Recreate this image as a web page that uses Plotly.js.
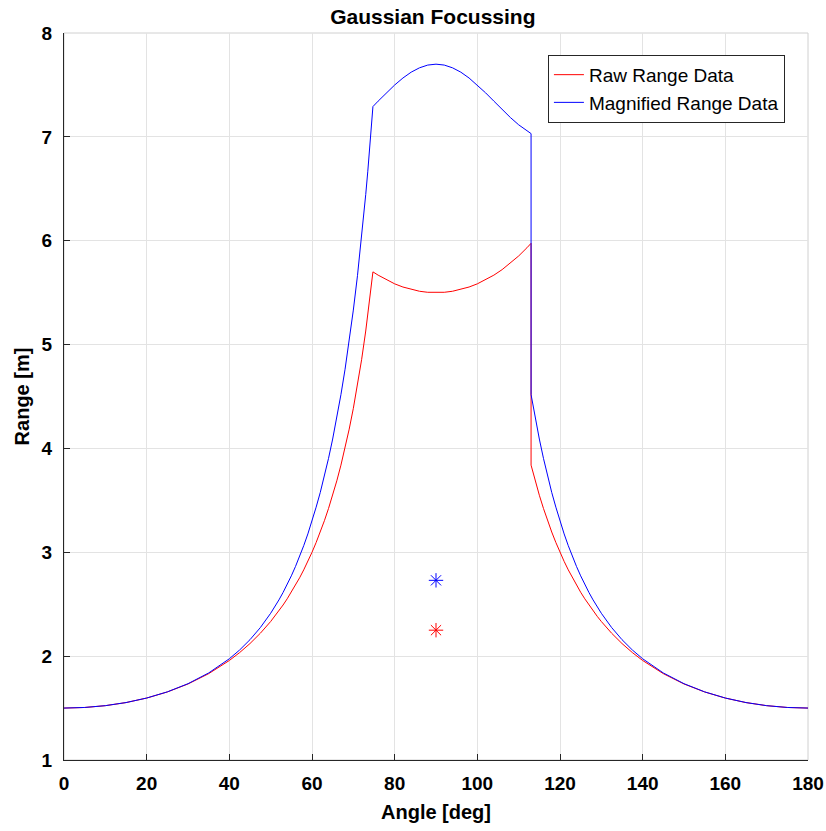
<!DOCTYPE html>
<html>
<head>
<meta charset="utf-8">
<script src="https://cdn.plot.ly/plotly-3.0.1.min.js"></script>
<style>html,body{margin:0;padding:0;background:#fff;}#chart{width:826px;height:831px;}</style>
</head>
<body>
<div id="chart"></div>
<script>
// Angle samples [deg]
const angles = [0,5,10,15,20,25,30,35,40,42.5,45,47.5,50,51,52,53,54,55,56,57,58,59,60,61,62,63,64,65,66,67,68,69,70,71,72,73,73.5,74,74.4,74.74,
  76,78,80,82,84,86,88,90,92,94,96,98,100,102,104,106,108,110,112,113,
  113,113.5,114,115,116,117,118,119,120,121,122,123,124,125,126,127,128,129,130,132.5,135,137.5,140,145,150,155,160,165,170,175,180];
// Raw range [m]
const rawRange = [1.5,1.5057,1.5231,1.5529,1.5963,1.6551,1.7321,1.8312,1.9581,2.0345,2.1213,2.2203,2.3336,2.3835,2.4364,2.4924,2.5520,2.6152,2.6825,2.7541,2.8306,2.9124,3.0,3.0940,3.1951,3.3040,3.4218,3.5493,3.6879,3.8390,4.0042,4.1856,4.3857,4.6073,4.8541,5.1305,5.2813,5.4419,5.5779,5.70,
  5.6684,5.6228,5.5848,5.5540,5.5303,5.5134,5.5034,5.5,5.5034,5.5134,5.5303,5.5540,5.5848,5.6228,5.6684,5.7217,5.7831,5.8530,5.9320,5.9750,
  3.8390,3.7618,3.6879,3.5493,3.4218,3.3040,3.1951,3.0940,3.0,2.9124,2.8306,2.7541,2.6825,2.6152,2.5520,2.4924,2.4364,2.3835,2.3336,2.2203,2.1213,2.0345,1.9581,1.8312,1.7321,1.6551,1.5963,1.5529,1.5231,1.5057,1.5];
// Magnified range [m]
const magRange = [1.5,1.5057,1.5231,1.5530,1.5966,1.6561,1.7348,1.8381,1.9746,2.0595,2.1586,2.2750,2.4127,2.4747,2.5414,2.6130,2.6901,2.7732,2.8628,2.9593,3.0638,3.1768,3.2993,3.4345,3.5763,3.7331,3.9040,4.0905,4.2942,4.5178,4.7630,5.0334,5.3321,5.6631,6.0317,6.4443,6.6691,6.9080,7.1105,7.2916,
  7.3440,7.4238,7.4993,7.5667,7.6230,7.6647,7.6912,7.7000,7.6912,7.6647,7.6230,7.5667,7.4993,7.4238,7.3440,7.2631,7.1861,7.1161,7.0561,7.0314,
  4.5177,4.4035,4.2942,4.0905,3.9040,3.7331,3.5763,3.4345,3.2993,3.1768,3.0638,2.9593,2.8628,2.7732,2.6901,2.6130,2.5414,2.4747,2.4127,2.2750,2.1586,2.0595,1.9746,1.8381,1.7348,1.6561,1.5966,1.5530,1.5231,1.5057,1.5];
// Focus markers
const rawStarX = [90], rawStarY = [2.25];
const magStarX = [90], magStarY = [2.73];
const xTicks = [0,20,40,60,80,100,120,140,160,180];
const yTicks = [1,2,3,4,5,6,7,8];

const traces = [
  {x: angles, y: rawRange, mode: 'lines', name: 'Raw Range Data', line: {color: '#ff0000', width: 1}},
  {x: angles, y: magRange, mode: 'lines', name: 'Magnified Range Data', line: {color: '#0000ff', width: 1}},
  {x: magStarX, y: magStarY, mode: 'markers', showlegend: false, marker: {symbol: 'asterisk-open', size: 12, color: '#0000ff', line: {color: '#0000ff', width: 1}}},
  {x: rawStarX, y: rawStarY, mode: 'markers', showlegend: false, marker: {symbol: 'asterisk-open', size: 12, color: '#ff0000', line: {color: '#ff0000', width: 1}}}
];

const fam = 'Liberation Sans, Arial, sans-serif';
const layout = {
  width: 826, height: 831,
  margin: {l: 64, r: 18, t: 33, b: 71},
  paper_bgcolor: '#fff', plot_bgcolor: '#fff',
  font: {family: fam, color: '#000'},
  title: {text: '<b>Gaussian Focussing</b>', x: 0.524, xanchor: 'center', y: 0.989, yanchor: 'top', font: {family: fam, size: 21, color: '#000'}},
  xaxis: {
    range: [0, 180], tickvals: xTicks, ticktext: xTicks.map(v => '<b>' + v + '</b>'),
    showgrid: true, gridcolor: '#e3e3e3', gridwidth: 1,
    showline: true, linecolor: '#262626', linewidth: 1, mirror: false,
    ticks: 'inside', ticklen: 6, tickcolor: '#262626', ticklabelstandoff: 6,
    zeroline: false, tickfont: {size: 19, color: '#000', family: fam},
    title: {text: '<b>Angle [deg]</b>', font: {size: 20, color: '#000', family: fam}, standoff: 12}
  },
  yaxis: {
    range: [1, 8], tickvals: yTicks, ticktext: yTicks.map(v => '<b>' + v + '</b>'),
    showgrid: true, gridcolor: '#e3e3e3', gridwidth: 1,
    showline: true, linecolor: '#262626', linewidth: 1, mirror: false,
    ticks: 'inside', ticklen: 6, tickcolor: '#262626', ticklabelstandoff: 7,
    zeroline: false, tickfont: {size: 19, color: '#000', family: fam},
    title: {text: '<b>Range [m]</b>', font: {size: 20, color: '#000', family: fam}, standoff: 6}
  },
  shapes: [
    {type: 'rect', xref: 'paper', yref: 'paper', x0: 0, x1: 1, y0: 0, y1: 1, line: {color: '#d0d0d0', width: 1}, layer: 'below'}
  ],
  legend: {
    x: 0.969, xanchor: 'right', y: 0.97, yanchor: 'top',
    bgcolor: '#fff', bordercolor: '#262626', borderwidth: 1,
    font: {size: 19, color: '#000', family: fam},
    tracegroupgap: 0
  },
  showlegend: true
};

Plotly.newPlot('chart', traces, layout, {displayModeBar: false, staticPlot: true});
</script>
</body>
</html>
